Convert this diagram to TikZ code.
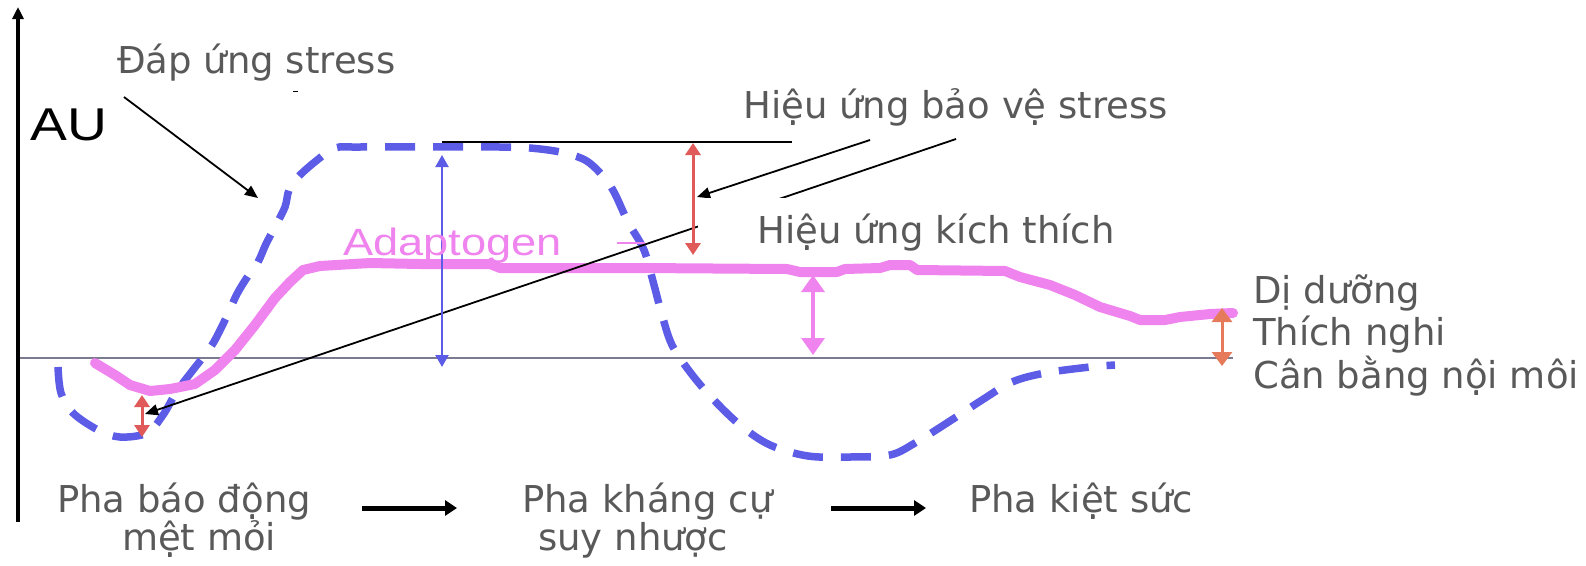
\documentclass[tikz,border=0pt]{standalone}
\usepackage{fontspec}
\setmainfont{DejaVu Sans}
\newfontfamily\arialf{Liberation Sans}
\usetikzlibrary{arrows.meta}
\definecolor{txtgray}{HTML}{595959}
\definecolor{dblue}{HTML}{5C5CE6}
\definecolor{apink}{HTML}{F084EE}
\definecolor{ared}{HTML}{E05A5A}
\definecolor{aorange}{HTML}{E67B5C}
\definecolor{basegray}{HTML}{7A7A90}
\begin{document}
\begin{tikzpicture}[x=1pt,y=-1pt,
  lbl/.style={anchor=base west, inner sep=0pt, text=txtgray, font=\fontsize{37}{40}\selectfont},
  ptr/.style={black, line width=1.8pt, -{Triangle[length=13pt,width=11pt]}},
  blueline/.style={dblue, line width=7.5pt, dash pattern=on 30pt off 18pt},
  pinkline/.style={apink, line width=10pt, line join=round, line cap=round},
  bluearr/.style={dblue, line width=2.2pt, {Triangle[length=12pt,width=13pt]}-{Triangle[length=12pt,width=13pt]}},
  redarr/.style={ared, line width=3pt, {Triangle[length=12pt,width=15pt]}-{Triangle[length=12pt,width=15pt]}},
  pinkarr/.style={apink, line width=3.5pt, {Triangle[length=17pt,width=23pt]}-{Triangle[length=17pt,width=23pt]}},
  orarr/.style={aorange, line width=3pt, {Triangle[length=14pt,width=20pt]}-{Triangle[length=14pt,width=20pt]}},
  phasearr/.style={black, line width=5pt, -{Triangle[length=12pt,width=15pt]}}
]
\useasboundingbox (0,0) rectangle (1586,565);

% baseline and axis
\coordinate (b0) at (18,358);
\coordinate (b1) at (1233,358);
\draw[basegray, line width=2pt] (b0) -- (b1);
\coordinate (ax0) at (18,522);
\coordinate (ax1) at (18,7);
\draw[black, line width=3.5pt, -{Triangle[length=12pt,width=11pt]}] (ax0) -- (ax1);

% stress response (dashed blue)
\draw[blueline] plot[smooth, tension=0.55] coordinates {
 (58,367) (61,393) (73,413) (98,430) (120,437) (147,433) (163,415) (177,391)
 (193,370) (212,345) (226,318) (237,294) (248,276) (258,262) (266,244) (276,225)
 (285,207) (289,190) (298,177) (316,161) (335,148) (360,147) (500,147) (530,148)
 (560,152) (585,160) (602,175) (614,192) (628,222) (644,250) (654,285) (662,315)
 (672,345) (690,372) (712,398) (740,425) (770,445) (808,456) (850,457) (890,455)
 (915,443) (950,421) (982,400) (1012,382) (1045,373) (1090,367) (1115,365)};

% adaptogen (pink)
\draw[pinkline] plot coordinates {
 (95,363) (115,375) (130,385) (150,391) (170,389) (195,384) (215,370) (235,350)
 (255,325) (275,298) (290,282) (303,270) (320,266) (370,263) (420,264) (490,264)
 (500,268) (640,268) (787,269) (800,272) (837,272) (845,269) (880,268) (890,265)
 (910,265) (917,270) (1005,271) (1020,277) (1050,285) (1075,295) (1100,307)
 (1130,316) (1140,320) (1165,320) (1180,317) (1210,314) (1233,313)};
\coordinate (ad0) at (617,243);
\coordinate (ad1) at (645,243);
\draw[apink, line width=2.5pt] (ad0) -- (ad1);

% top reference line
\coordinate (t0) at (442,142);
\coordinate (t1) at (792,142);
\draw[black, line width=2pt] (t0) -- (t1);

% pointer lines
\coordinate (ds0) at (124,97);
\coordinate (ds1) at (258,198);
\draw[ptr] (ds0) -- (ds1);
\coordinate (p1s) at (870,140);
\coordinate (p1e) at (697,197);
\draw[ptr] (p1s) -- (p1e);
\coordinate (p2s) at (956,139);
\coordinate (p2e) at (145,414);
\draw[ptr] (p2s) -- (p2e);

% white box behind the "kich thich" label
\fill[white] (698,198) rectangle (1125,256);

% double arrows
\coordinate (bA) at (442,155);
\coordinate (bB) at (442,367);
\draw[bluearr] (bA) -- (bB);
\coordinate (rA) at (693,143);
\coordinate (rB) at (693,255);
\draw[redarr] (rA) -- (rB);
\coordinate (sA) at (142,395);
\coordinate (sB) at (142,437);
\draw[redarr] (sA) -- (sB);
\coordinate (kA) at (813,275);
\coordinate (kB) at (813,355);
\draw[pinkarr] (kA) -- (kB);
\coordinate (oA) at (1222,308);
\coordinate (oB) at (1222,366);
\draw[orarr] (oA) -- (oB);

% tiny mark
\coordinate (m0) at (293,91);
\coordinate (m1) at (298,91);
\draw[black, line width=1pt] (m0) -- (m1);

% labels
\node[lbl] (dap) at (117,73) {Đáp ứng stress};
\node[anchor=base west, inner sep=0pt, font=\arialf\fontsize{46}{48}\selectfont] (au) at (30,140) {\scalebox{1.2}[1]{AU}};
\node[anchor=base west, inner sep=0pt, text=apink, font=\arialf\fontsize{38}{40}\selectfont] (adapt) at (343,255) {\scalebox{1.19}[1]{Adaptogen}};
\node[lbl] (baove) at (743,118) {Hiệu ứng bảo vệ stress};
\node[lbl] (kich) at (757,243) {Hiệu ứng kích thích};
\node[lbl] (diduong) at (1253,303) {Dị dưỡng};
\node[lbl] (thich) at (1253,345) {Thích nghi};
\node[lbl] (canbang) at (1253,388) {Cân bằng nội môi};
\node[lbl] (ph1a) at (57,512) {Pha báo động};
\node[lbl] (ph1b) at (122,550) {mệt mỏi};
\node[lbl] (ph2a) at (522,512) {Pha kháng cự};
\node[lbl] (ph2b) at (538,550) {suy nhược};
\node[lbl] (ph3) at (969,512) {Pha kiệt sức};

% phase arrows
\coordinate (a1s) at (362,508);
\coordinate (a1e) at (457,508);
\draw[phasearr] (a1s) -- (a1e);
\coordinate (a2s) at (831,508);
\coordinate (a2e) at (926,508);
\draw[phasearr] (a2s) -- (a2e);
\end{tikzpicture}
\end{document}
